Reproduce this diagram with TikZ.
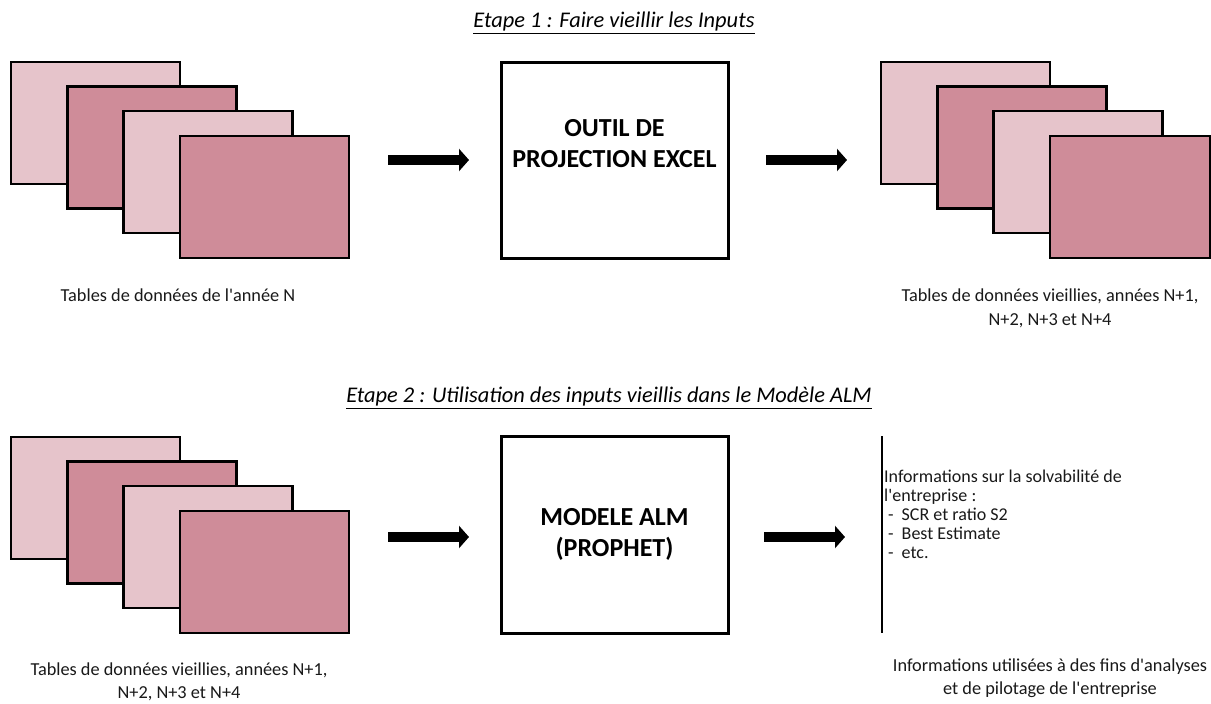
\documentclass[tikz,border=0pt]{standalone}
\usepackage{fontspec}
\setmainfont{Carlito}
\usetikzlibrary{arrows.meta}
\definecolor{pinkLight}{RGB}{230,196,203}
\definecolor{pinkDark}{RGB}{207,140,153}
\newcommand{\apos}{\textquotesingle}
\begin{document}
\begin{tikzpicture}[x=1pt,y=-1pt,
  sheet/.style={draw=black, line width=2.5pt, minimum width=169pt, minimum height=122pt,
    anchor=north west, inner sep=0pt, outer sep=0pt},
  procbox/.style={draw=black, line width=3pt, minimum width=227pt, minimum height=196pt,
    inner sep=0pt, fill=white},
  boxtext/.style={font=\fontsize{26}{31}\selectfont\bfseries, align=center},
  caption/.style={font=\fontsize{18.3}{23.5}\selectfont, align=center, text=black!90},
  steptitle/.style={font=\fontsize{22.4}{26}\selectfont\itshape},
  fatarrow/.style={line width=10pt, -{Triangle[length=10pt,width=22pt]}}]

% page frame
\useasboundingbox[fill=white] (0,0) rectangle (1211,704);

% ---- Step 1 ----
\node[steptitle] (T1) at (614,23) {\underline{Etape 1 : Faire vieillir les Inputs}};

% input tables, year N
\foreach \i/\c in {0/pinkLight,1/pinkDark,2/pinkLight,3/pinkDark}
  \node[sheet, fill=\c] (A\i) at (11+56.3*\i, 62+24.6*\i) {};
\node[caption] (LA) at (178,295) {Tables de données de l\apos année N};

% projection tool
\node[procbox] (P1) at (614.5,160) {};
\node[boxtext] (P1t) at (614.5,144) {OUTIL DE\\PROJECTION EXCEL};

% aged tables
\foreach \i/\c in {0/pinkLight,1/pinkDark,2/pinkLight}
  \node[sheet, fill=\c] (B\i) at (881+56.3*\i, 62+24.6*\i) {};
\node[sheet, fill=pinkDark, minimum width=160pt] (B3) at (1049.9,135.8) {};
\node[caption] (LB) at (1050,308.5) {Tables de données vieillies, années N+1,\\N+2, N+3 et N+4};

% arrows of step 1
\coordinate (a1s) at (388,160);
\coordinate (a1e) at (469,160);
\coordinate (a2s) at (766,160);
\coordinate (a2e) at (847,160);
\draw[fatarrow] (a1s) -- (a1e);
\draw[fatarrow] (a2s) -- (a2e);

% ---- Step 2 ----
\node[steptitle] (T2) at (609,398) {\underline{Etape 2 : Utilisation des inputs vieillis dans le Modèle ALM}};

% aged tables as inputs
\foreach \i/\c in {0/pinkLight,1/pinkDark,2/pinkLight,3/pinkDark}
  \node[sheet, fill=\c] (C\i) at (11+56.3*\i, 437+24.6*\i) {};
\node[caption] (LC) at (179,682) {Tables de données vieillies, années N+1,\\N+2, N+3 et N+4};

% ALM model
\node[procbox, minimum height=197pt] (P2) at (614.5,534.5) {};
\node[boxtext] (P2t) at (614.5,534) {MODELE ALM\\(PROPHET)};

% results
\coordinate (vTop) at (882,436);
\coordinate (vBot) at (882,633);
\draw[line width=2.5pt] (vTop) -- (vBot);
\node[font=\fontsize{18}{19}\selectfont, align=left, anchor=west, inner sep=0pt, text=black!90] (R)
  at (884,514) {Informations sur la solvabilité de\\
  l\apos entreprise :\\
  \hspace*{4pt}-\hspace{8pt}SCR et ratio S2\\
  \hspace*{4pt}-\hspace{8pt}Best Estimate\\
  \hspace*{4pt}-\hspace{8pt}etc.};
\node[caption] (LR) at (1050,678) {Informations utilisées à des fins d\apos analyses\\et de pilotage de l\apos entreprise};

% arrows of step 2
\coordinate (b1s) at (388,537);
\coordinate (b1e) at (469,537);
\coordinate (b2s) at (764,537);
\coordinate (b2e) at (845,537);
\draw[fatarrow] (b1s) -- (b1e);
\draw[fatarrow] (b2s) -- (b2e);
\end{tikzpicture}
\end{document}
